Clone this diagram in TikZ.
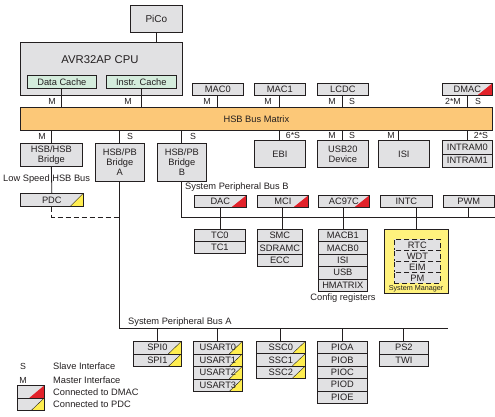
\documentclass[tikz,border=0pt]{standalone}
\usepackage{fontspec}
\setmainfont{Liberation Sans}
\definecolor{boxgray}{HTML}{E1E1E3}
\definecolor{busorange}{HTML}{FCC878}
\definecolor{cachegreen}{HTML}{D4ECDC}
\definecolor{mgryellow}{HTML}{FFF27D}
\definecolor{dmared}{HTML}{E2222A}
\definecolor{pdcyellow}{HTML}{FFEE50}
\definecolor{linecol}{HTML}{231F20}
\begin{document}
\begin{tikzpicture}[x=1pt,y=-1pt,
  every node/.style={font=\fontsize{9.3}{10}\selectfont, inner sep=0pt, text=linecol},
  blk/.style={draw=linecol, line width=0.7pt, fill=boxgray, anchor=north west},
  sz/.style 2 args={minimum width=#1pt, minimum height=#2pt},
  lbl/.style={font=\fontsize{8.8}{9}\selectfont},
  wire/.style={draw=linecol, line width=0.8pt},
  dsh/.style={dash pattern=on 5pt off 3pt},
  dmatri/.style={path picture={\fill[dmared] (path picture bounding box.south east) -- (path picture bounding box.north east) -- ([xshift=-15pt]path picture bounding box.south east) -- cycle;}},
  pdctri/.style={path picture={\fill[pdcyellow] (path picture bounding box.south east) -- (path picture bounding box.north east) -- ([xshift=-13pt]path picture bounding box.south east) -- cycle;
     \draw[linecol, line width=0.4pt] (path picture bounding box.north east) -- ([xshift=-13pt]path picture bounding box.south east);}}]
\useasboundingbox (0,0) rectangle (495,416);

% top blocks
\node[blk, sz={52}{27}, font=\fontsize{10}{11}\selectfont] (pico) at (130,5) {PiCo};
\node[blk, sz={162}{53}] (cpu) at (20,42) {};
\node[font=\fontsize{11.3}{12}\selectfont] (cputxt) at (100,60) {AVR32AP CPU};
\node[blk, fill=cachegreen, sz={69}{13}] (dcache) at (27,75) {Data Cache};
\node[blk, fill=cachegreen, sz={70}{13}] (icache) at (106,75) {Instr. Cache};
\node[blk, sz={51}{12}] (mac0) at (192,83) {MAC0};
\node[blk, sz={51}{12}] (mac1) at (254,83) {MAC1};
\node[blk, sz={51}{12}] (lcdc) at (317,83) {LCDC};
\node[blk, sz={50}{12}, dmatri] (dmac) at (442,83) {DMAC\hspace{8pt}};

% bus matrix
\node[blk, fill=busorange, sz={472}{23}] (bus) at (20,107) {HSB Bus Matrix};

% blocks below matrix
\node[blk, sz={62}{23}, align=center] (hsbhsb) at (20,143) {HSB/HSB\\Bridge};
\node[blk, sz={49}{38}, align=center] (bra) at (95,143) {HSB/PB\\Bridge\\A};
\node[blk, sz={49}{38}, align=center] (brb) at (157,143) {HSB/PB\\Bridge\\B};
\node[blk, sz={51}{27}] (ebi) at (254,140) {EBI};
\node[blk, sz={51}{27}, align=center] (usb) at (317,140) {USB20\\Device};
\node[blk, sz={51}{27}] (isi) at (378,140) {ISI};
\node[blk, sz={50}{13.5}] (intram0) at (442,140) {INTRAM0};
\node[blk, sz={50}{13.5}] (intram1) at (442,153.5) {INTRAM1};

% master/slave labels
\node[lbl] (l1) at (52,101) {M};
\node[lbl] (l2) at (128,101) {M};
\node[lbl] (l3) at (207,101) {M};
\node[lbl] (l4) at (268,101) {M};
\node[lbl] (l5) at (332,101) {M};
\node[lbl] (l6) at (352,101) {S};
\node[lbl] (l7) at (453,101) {2*M};
\node[lbl] (l8) at (478,101) {S};
\node[lbl] (l9) at (42,136) {M};
\node[lbl] (l10) at (130,136) {S};
\node[lbl] (l11) at (193,136) {S};
\node[lbl] (l12) at (293,135) {6*S};
\node[lbl] (l13) at (332,135) {M};
\node[lbl] (l14) at (352,135) {S};
\node[lbl] (l15) at (391,135) {M};
\node[lbl] (l16) at (481,135) {2*S};

% low speed bus and PDC
\node[anchor=west] (lsbus) at (3,179) {Low Speed HSB Bus};
\node[blk, sz={63}{13}, pdctri] (pdc) at (20,193) {PDC\hspace{10pt}};

% peripheral bus B
\node[anchor=west] (pbbtxt) at (185,187) {System Peripheral Bus B};
\node[blk, sz={52}{12}, dmatri] (dac) at (194,195) {DAC\hspace{14pt}};
\node[blk, sz={51}{12}, dmatri] (mci) at (257,195) {MCI\hspace{14pt}};
\node[blk, sz={51}{12}, dmatri] (ac97c) at (318,195) {AC97C\hspace{12pt}};
\node[blk, sz={52}{12}] (intc) at (380,195) {INTC};
\node[blk, sz={51}{12}] (pwm) at (443,195) {PWM};

\node[blk, sz={51}{12}] (tc0) at (194,229) {TC0};
\node[blk, sz={51}{12}] (tc1) at (194,241) {TC1};
\node[blk, sz={45}{12.3}] (smc) at (257,229) {SMC};
\node[blk, sz={45}{12.3}] (sdramc) at (257,241.3) {SDRAMC};
\node[blk, sz={45}{12.3}] (ecc) at (257,253.6) {ECC};
\node[blk, sz={49}{12.4}] (macb1) at (318,229) {MACB1};
\node[blk, sz={49}{12.4}] (macb0) at (318,241.4) {MACB0};
\node[blk, sz={49}{12.4}] (isic) at (318,253.8) {ISI};
\node[blk, sz={49}{12.4}] (usbc) at (318,266.2) {USB};
\node[blk, sz={49}{12.4}] (hmatrix) at (318,278.6) {HMATRIX};
\node (cfg) at (343,298) {Config registers};

\node[blk, fill=mgryellow, sz={64}{64}] (sysmgr) at (384,229) {};
\node[blk, dsh, sz={46}{11}] (rtc) at (394,239) {RTC};
\node[blk, dsh, sz={46}{11}] (wdt) at (394,250) {WDT};
\node[blk, dsh, sz={46}{11}] (eim) at (394,261) {EIM};
\node[blk, dsh, sz={46}{11}] (pm) at (394,272) {PM};
\node[font=\fontsize{7.2}{8}\selectfont] (smtxt) at (416,288.5) {System Manager};

% peripheral bus A
\node[anchor=west] (pbatxt) at (128,322) {System Peripheral Bus A};
\node[blk, sz={48}{12.5}, pdctri] (spi0) at (133,341) {SPI0\hspace{10pt}};
\node[blk, sz={48}{12.5}, pdctri] (spi1) at (133,353.5) {SPI1\hspace{10pt}};
\node[blk, sz={49}{12.5}, pdctri] (usart0) at (193,341) {USART0\hspace{6pt}};
\node[blk, sz={49}{12.5}, pdctri] (usart1) at (193,353.5) {USART1\hspace{6pt}};
\node[blk, sz={49}{12.5}, pdctri] (usart2) at (193,366) {USART2\hspace{6pt}};
\node[blk, sz={49}{12.5}, pdctri] (usart3) at (193,378.5) {USART3\hspace{6pt}};
\node[blk, sz={49}{12.3}, pdctri] (ssc0) at (256,341) {SSC0\hspace{10pt}};
\node[blk, sz={49}{12.3}, pdctri] (ssc1) at (256,353.3) {SSC1\hspace{10pt}};
\node[blk, sz={49}{12.3}, pdctri] (ssc2) at (256,365.6) {SSC2\hspace{10pt}};
\node[blk, sz={50}{12.4}] (pioa) at (317,341) {PIOA};
\node[blk, sz={50}{12.4}] (piob) at (317,353.4) {PIOB};
\node[blk, sz={50}{12.4}] (pioc) at (317,365.8) {PIOC};
\node[blk, sz={50}{12.4}] (piod) at (317,378.2) {PIOD};
\node[blk, sz={50}{12.4}] (pioe) at (317,390.6) {PIOE};
\node[blk, sz={49}{12.5}] (ps2) at (379,341) {PS2};
\node[blk, sz={49}{12.5}] (twi) at (379,353.5) {TWI};

% legend
\node[lbl] (legs) at (23,366) {S};
\node[lbl] (legm) at (23,380) {M};
\node[anchor=west] (legst) at (53,366) {Slave Interface};
\node[anchor=west] (legmt) at (53,380) {Master Interface};
\node[blk, sz={27}{12.5}, dmatri] (legd) at (17,385) {};
\node[blk, sz={27}{12.5}, pdctri] (legp) at (17,397.5) {};
\node[anchor=west] (legdt) at (53,392) {Connected to DMAC};
\node[anchor=west] (legpt) at (53,404.5) {Connected to PDC};

% connectors
\coordinate (busAend) at (448,328);
\coordinate (busBend) at (495,217);
\draw[wire] (pico.south) -- (pico.south |- cpu.north);
\draw[wire] (dcache.south) -- (dcache.south |- bus.north);
\draw[wire] (icache.south) -- (icache.south |- bus.north);
\draw[wire] (mac0.south) -- (mac0.south |- bus.north);
\draw[wire] (mac1.south) -- (mac1.south |- bus.north);
\draw[wire] (lcdc.south) -- (lcdc.south |- bus.north);
\draw[wire] (dmac.south) -- (dmac.south |- bus.north);
\draw[wire] (hsbhsb.north |- bus.south) -- (hsbhsb.north);
\draw[wire] (bra.north |- bus.south) -- (bra.north);
\draw[wire] (brb.north |- bus.south) -- (brb.north);
\draw[wire] (ebi.north |- bus.south) -- (ebi.north);
\draw[wire] (usb.north |- bus.south) -- (usb.north);
\draw[wire] ([xshift=-5pt]isi.north |- bus.south) -- ([xshift=-5pt]isi.north);
\draw[wire] (intram0.north |- bus.south) -- (intram0.north);
\draw[wire] (hsbhsb.south) -- (pdc.north);
\draw[wire, dsh] (pdc.south) |- (bra.south |- 0,217);
\draw[wire] (bra.south) |- (busAend);
\draw[wire] (brb.south) |- (busBend);
\draw[wire] (dac.south) -- (dac.south |- tc0.north);
\draw[wire] (mci.south) -- (mci.south |- smc.north);
\draw[wire] (ac97c.south) -- (ac97c.south |- macb1.north);
\draw[wire] (sysmgr.north |- intc.south) -- (sysmgr.north);
\draw[wire] (pwm.south) -- (pwm.south |- busBend);
\draw[wire] (spi0.north |- busAend) -- (spi0.north);
\draw[wire] (usart0.north |- busAend) -- (usart0.north);
\draw[wire] (ssc0.north |- busAend) -- (ssc0.north);
\draw[wire] (pioa.north |- busAend) -- (pioa.north);
\draw[wire] (ps2.north |- busAend) -- (ps2.north);
\end{tikzpicture}
\end{document}
